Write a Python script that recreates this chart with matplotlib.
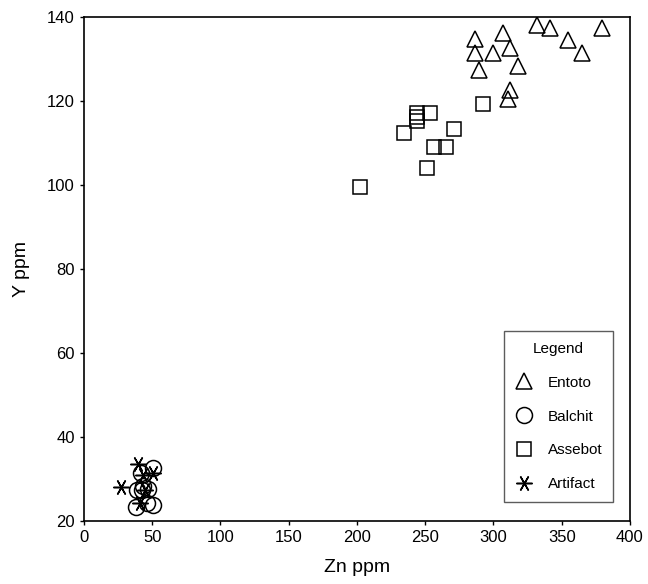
import matplotlib
matplotlib.use("Agg")
import matplotlib.pyplot as plt

plt.rcParams['font.family'] = ['Liberation Sans', 'DejaVu Sans']

# Zn vs Y (ppm)
entoto_zn = [286.4, 307.2, 331.6, 341.4, 379.3, 354.4, 286.4, 299.9, 312.1, 364.6, 289.6, 318.2, 312.1, 310.8]
entoto_y = [134.6, 136.2, 138.0, 137.4, 137.2, 134.5, 131.3, 131.3, 132.6, 131.3, 127.3, 128.3, 122.5, 120.3]

balchit_zn = [50.8, 41.5, 38.6, 42.3, 47.1, 43.2, 38.1, 50.8, 45.9]
balchit_y = [32.5, 31.4, 27.3, 27.3, 27.5, 28.2, 23.3, 23.7, 24.1]

assebot_zn = [243.7, 244.0, 244.0, 253.7, 234.4, 271.1, 256.2, 265.0, 251.5, 202.2, 292.1]
assebot_y = [117.1, 116.1, 115.2, 117.1, 112.2, 113.2, 109.0, 109.0, 103.9, 99.4, 119.2]

artifact_zn = [39.8, 26.9, 50.8, 43.4, 44.7, 41.0]
artifact_y = [33.5, 28.1, 31.3, 30.9, 27.3, 24.1]

fig = plt.figure(figsize=(6.48, 5.84), dpi=100)
ax = fig.add_axes([0.1296, 0.1084, 0.8426, 0.863])

mk = dict(linestyle='none', markerfacecolor='none', markeredgecolor='black',
          color='black', markeredgewidth=1.1)
ax.plot(entoto_zn, entoto_y, marker='^', markersize=12, label='Entoto', **mk)
ax.plot(balchit_zn, balchit_y, marker='o', markersize=11.5, label='Balchit', **mk)
ax.plot(assebot_zn, assebot_y, marker='s', markersize=10, label='Assebot', **mk)
ax.plot(artifact_zn, artifact_y, marker=(6, 2, 90), markersize=11.5, label='Artifact', **mk)

ax.set_xlim(0, 400)
ax.set_ylim(20, 140)
ax.set_xticks(range(0, 401, 50))
ax.set_yticks(range(20, 141, 20))
ax.tick_params(direction='out', length=3, width=1, labelsize=12, colors='black')
for s in ax.spines.values():
    s.set_linewidth(1.2)

ax.set_xlabel('Zn ppm', fontsize=14, labelpad=10)
ax.set_ylabel('Y ppm', fontsize=14, labelpad=12)

leg = ax.legend(title='Legend', loc='lower left', bbox_to_anchor=(0.769, 0.037),
                fontsize=11, title_fontsize=11, frameon=True, fancybox=False,
                edgecolor='#333333', labelspacing=1.3, borderpad=0.7,
                handlelength=1.3, handletextpad=0.9, borderaxespad=0)
leg.get_frame().set_linewidth(1.0)

fig.savefig('out.png', dpi=100)
